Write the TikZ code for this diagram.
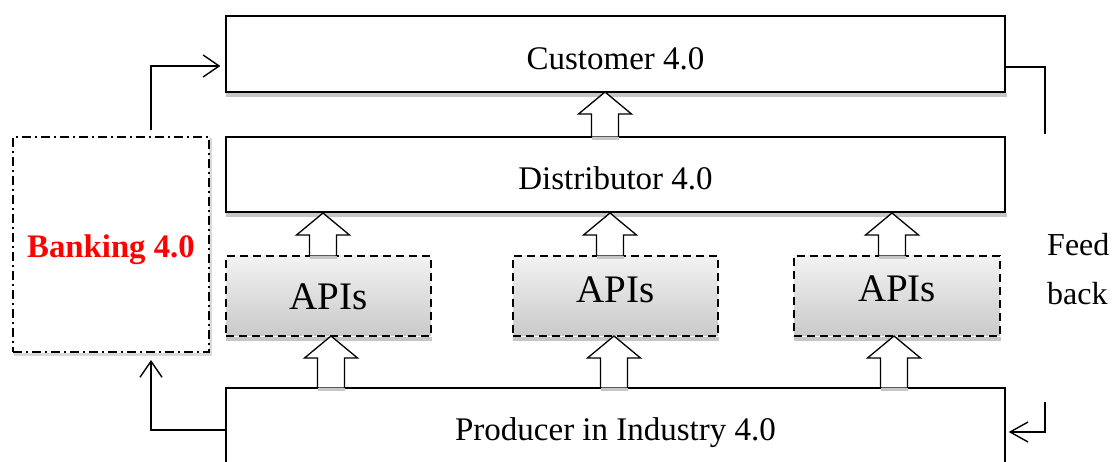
\documentclass[tikz,border=0pt]{standalone}
\usepackage{fontspec}
\setmainfont{Liberation Serif}
\usetikzlibrary{arrows.meta,calc}
\newcommand\blockup[3]{%
  \draw[blk] (#1,#2) -- (#1+26.5,#2+22) -- (#1+13.5,#2+22) -- (#1+13.5,#3)
     -- (#1-13.5,#3) -- (#1-13.5,#2+22) -- (#1-26.5,#2+22) -- cycle;
  \fill[shadowc] (#1-13.5,#3) rectangle (#1+13.5,#3+3);}
\begin{document}
\begin{tikzpicture}[x=1pt,y=-1pt,
  shadowc/.style={fill=gray!45},
  box/.style={draw=black,line width=1.3pt,fill=white,inner sep=0pt,
    minimum width=779pt,text depth=0pt,font=\fontsize{33}{39}\selectfont},
  api/.style={draw=black,line width=1.2pt,dash pattern=on 8pt off 5pt,
    top color=gray!10,bottom color=gray!42,minimum height=80pt,inner sep=0pt,
    text depth=0pt,font=\fontsize{39}{46}\selectfont},
  bank/.style={draw=black,line width=1.4pt,dash pattern=on 9pt off 4pt on 2pt off 4pt,
    fill=white,minimum width=196pt,minimum height=215pt,inner sep=0pt,
    text depth=0pt,text height=27pt,text=red,
    font=\fontsize{32.8}{38}\selectfont\bfseries},
  blk/.style={draw=black,line width=1.3pt,fill=white,line join=miter},
  conn/.style={draw=black,line width=1.4pt},
  barb/.style={-{Straight Barb[length=16pt,width=22pt,line width=1.4pt]}},
  txt/.style={inner sep=0pt,anchor=base west,font=\fontsize{32}{37}\selectfont}]
\clip (0,0) rectangle (1114,462);
\fill[white] (0,0) rectangle (1114,462);
% shadows
\fill[shadowc] (226,93) rectangle (1007,97);
\fill[shadowc] (226,213) rectangle (1007,217);
\fill[shadowc] (226,337) rectangle (432,341);
\fill[shadowc] (513,337) rectangle (719,341);
\fill[shadowc] (794,337) rectangle (1001,341);
\fill[gray!30] (14,353) rectangle (211,356);
\fill[gray!30] (209,138) rectangle (212,356);
% boxes
\node[box,minimum height=76pt,text height=32pt] (cust) at (615.5,54) {Customer 4.0};
\node[box,minimum height=75pt,text height=31pt] (dist) at (615.5,174.5) {Distributor 4.0};
\node[box,minimum height=82pt,text height=22pt] (prod) at (615.5,429) {Producer in Industry 4.0};
\node[api,minimum width=205pt,text height=28pt] (api1) at (328.5,296) {APIs};
\node[api,minimum width=205pt,text height=14pt] (api2) at (615.5,296) {APIs};
\node[api,minimum width=206pt,text height=12pt] (api3) at (897,296) {APIs};
\node[bank] (bank) at (111,244.5) {Banking 4.0};
% block arrows
\blockup{605}{92}{137}
\blockup{323}{213}{256}
\blockup{610}{213}{256}
\blockup{892}{213}{256}
\blockup{331}{336}{388}
\blockup{614}{336}{388}
\blockup{894}{336}{388}
% connectors
\coordinate (bankout) at (151,130);
\coordinate (bankin) at (151,360);
\coordinate (fbtop) at (1045,134);
\coordinate (fbbot) at (1045,402);
\draw[conn,barb] (bankout) |- ($(cust.west)+(-5,12)$);
\draw[conn,barb] ($(prod.west)+(0,1)$) -| (bankin);
\draw[conn] ($(cust.east)+(0,13)$) -| (fbtop);
\draw[conn,-{Straight Barb[length=18pt,width=20pt,line width=1.4pt]}] (fbbot) |- ($(prod.east)+(3,3)$);
\node[txt] (feed) at (1047,256) {Feed};
\node[txt] (back) at (1047,305) {back};
\end{tikzpicture}
\end{document}
